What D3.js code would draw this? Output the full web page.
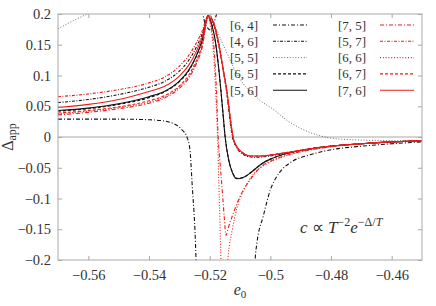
<!DOCTYPE html>
<html>
<head>
<meta charset="utf-8">
<script src="https://cdn.jsdelivr.net/npm/d3@7"></script>
<style>
  body { margin: 0; background: #fff; }
</style>
</head>
<body>
<svg id="chart" width="436" height="306"></svg>
<script>
// axis ticks
const xTicks = [-0.56, -0.54, -0.52, -0.5, -0.48, -0.46];
const yTicks = [-0.2, -0.15, -0.1, -0.05, 0, 0.05, 0.1, 0.15, 0.2];

// series, [e0, Δapp] (null = gap at a pole)
const s64 = [[-0.57, 0.029], [-0.55, 0.029], [-0.54, 0.028], [-0.535, 0.026], [-0.532, 0.022], [-0.5305, 0.018],
  [-0.529, 0.011], [-0.5275, 0.0], [-0.5265, -0.021], [-0.5258, -0.075], [-0.5245, -0.2], [-0.524, -0.3], null,
  [-0.5232, 0.25], [-0.5222, 0.2], [-0.521, 0.18], [-0.5198, 0.174], [-0.519, 0.18], [-0.518, 0.195], [-0.517, 0.215], null,
  [-0.5055, -0.3], [-0.505, -0.2], [-0.5044, -0.172], [-0.5024, -0.13], [-0.5, -0.086], [-0.497, -0.058], [-0.4935, -0.042],
  [-0.4869, -0.029], [-0.4803, -0.021], [-0.47, -0.015], [-0.46, -0.011], [-0.45, -0.008]];
const s46 = [[-0.57, 0.056], [-0.56, 0.061], [-0.55, 0.069], [-0.54, 0.081], [-0.535, 0.09], [-0.53, 0.107], [-0.527, 0.124],
  [-0.5245, 0.145], [-0.5225, 0.167], [-0.5205, 0.197], [-0.519, 0.188], [-0.5175, 0.16], [-0.5146, 0.08], [-0.5125, 0.0],
  [-0.511, -0.018], [-0.509, -0.028], [-0.507, -0.032], [-0.505, -0.033], [-0.502, -0.032], [-0.4968, -0.028],
  [-0.4902, -0.022], [-0.4803, -0.015], [-0.47, -0.011], [-0.46, -0.008], [-0.45, -0.006]];
const s55 = [[-0.57, 0.176], [-0.565, 0.189], [-0.56, 0.201], [-0.555, 0.214], null,
  [-0.5198, 0.21], [-0.5192, 0.19], [-0.5175, 0.172], [-0.516, 0.155], [-0.514, 0.133], [-0.5116, 0.108], [-0.509, 0.087],
  [-0.506, 0.071], [-0.503, 0.058], [-0.499, 0.045], [-0.4945, 0.027], [-0.49, 0.014], [-0.4836, 0.002], [-0.478, -0.003],
  [-0.47, -0.005], [-0.46, -0.006], [-0.45, -0.0065]];
const s65 = [[-0.57, 0.042], [-0.56, 0.046], [-0.55, 0.053], [-0.54, 0.064], [-0.535, 0.073], [-0.53, 0.09], [-0.527, 0.107],
  [-0.5245, 0.13], [-0.5225, 0.156], [-0.5205, 0.197], [-0.5195, 0.185], [-0.5182, 0.158], [-0.5172, 0.12], [-0.5163, 0.076],
  [-0.5156, 0.038], [-0.5149, 0.0], [-0.5138, -0.035], [-0.5125, -0.057], [-0.511, -0.067], [-0.509, -0.066], [-0.507, -0.06],
  [-0.505, -0.052], [-0.5027, -0.043], [-0.4995, -0.035], [-0.4968, -0.03], [-0.4902, -0.022], [-0.4803, -0.015],
  [-0.47, -0.011], [-0.46, -0.008], [-0.45, -0.006]];
const s56 = [[-0.57, 0.043], [-0.56, 0.047], [-0.55, 0.054], [-0.54, 0.0655], [-0.535, 0.074], [-0.53, 0.091], [-0.527, 0.108],
  [-0.5245, 0.131], [-0.5225, 0.157], [-0.5205, 0.198], [-0.5195, 0.186], [-0.5182, 0.158], [-0.5172, 0.12], [-0.5163, 0.076],
  [-0.5156, 0.038], [-0.5149, 0.0], [-0.5138, -0.036], [-0.5125, -0.058], [-0.511, -0.068], [-0.509, -0.066], [-0.507, -0.06],
  [-0.505, -0.052], [-0.5027, -0.043], [-0.4995, -0.035], [-0.4968, -0.03], [-0.4902, -0.022], [-0.4803, -0.015],
  [-0.47, -0.011], [-0.46, -0.008], [-0.45, -0.006]];
const s75 = [[-0.57, 0.036], [-0.56, 0.04], [-0.55, 0.046], [-0.54, 0.055], [-0.535, 0.063], [-0.53, 0.079], [-0.527, 0.095],
  [-0.5245, 0.118], [-0.5225, 0.145], [-0.5205, 0.195], [-0.5195, 0.18], [-0.5185, 0.14], [-0.5178, 0.08], [-0.5172, 0.0],
  [-0.5166, -0.04], [-0.5158, -0.09], [-0.5152, -0.13], [-0.5146, -0.16], [-0.514, -0.15], [-0.5125, -0.128], [-0.5103, -0.1],
  [-0.5067, -0.07], [-0.5027, -0.047], [-0.499, -0.037], [-0.495, -0.03], [-0.49, -0.024], [-0.4803, -0.016],
  [-0.47, -0.011], [-0.46, -0.008], [-0.45, -0.006]];
const s57 = [[-0.57, 0.0655], [-0.56, 0.07], [-0.55, 0.077], [-0.54, 0.088], [-0.535, 0.097], [-0.53, 0.115], [-0.527, 0.132],
  [-0.5245, 0.152], [-0.5225, 0.172], [-0.5205, 0.197], [-0.519, 0.19], [-0.5172, 0.158], [-0.5155, 0.11], [-0.5143, 0.076],
  [-0.5133, 0.035], [-0.5123, 0.0], [-0.511, -0.016], [-0.509, -0.026], [-0.5075, -0.03], [-0.506, -0.031], [-0.504, -0.031],
  [-0.501, -0.03], [-0.4968, -0.027], [-0.4902, -0.022], [-0.4803, -0.015], [-0.47, -0.011], [-0.46, -0.008], [-0.45, -0.006]];
const s66 = [[-0.57, 0.038], [-0.56, 0.042], [-0.55, 0.048], [-0.54, 0.057], [-0.535, 0.065], [-0.53, 0.081], [-0.527, 0.097],
  [-0.5245, 0.12], [-0.5225, 0.147], [-0.5205, 0.195], [-0.5195, 0.175], [-0.5185, 0.12], [-0.5178, 0.05], [-0.5174, 0.0],
  [-0.517, -0.07], [-0.5166, -0.14], [-0.5163, -0.2], [-0.516, -0.3], null,
  [-0.5142, -0.3], [-0.514, -0.2], [-0.5125, -0.15], [-0.511, -0.115], [-0.509, -0.088], [-0.507, -0.07], [-0.505, -0.057],
  [-0.502, -0.046], [-0.499, -0.038], [-0.495, -0.031], [-0.49, -0.024], [-0.4803, -0.016], [-0.47, -0.011],
  [-0.46, -0.008], [-0.45, -0.006]];
const s67 = [[-0.57, 0.039], [-0.56, 0.043], [-0.55, 0.049], [-0.54, 0.059], [-0.535, 0.067], [-0.53, 0.083], [-0.527, 0.1],
  [-0.5245, 0.123], [-0.5225, 0.15], [-0.5205, 0.196], [-0.519, 0.188], [-0.5172, 0.155], [-0.5155, 0.106], [-0.5143, 0.072],
  [-0.5133, 0.032], [-0.5123, 0.0], [-0.511, -0.017], [-0.509, -0.027], [-0.5075, -0.03], [-0.506, -0.031], [-0.504, -0.031],
  [-0.501, -0.03], [-0.4968, -0.027], [-0.4902, -0.022], [-0.4803, -0.015], [-0.47, -0.011], [-0.46, -0.008], [-0.45, -0.006]];
const s76 = [[-0.57, 0.048], [-0.56, 0.053], [-0.55, 0.061], [-0.54, 0.074], [-0.535, 0.082], [-0.53, 0.099], [-0.527, 0.116],
  [-0.5245, 0.138], [-0.5225, 0.162], [-0.5205, 0.197], [-0.519, 0.189], [-0.5172, 0.157], [-0.5155, 0.108], [-0.5143, 0.074],
  [-0.5133, 0.034], [-0.5123, 0.0], [-0.511, -0.016], [-0.509, -0.026], [-0.5075, -0.03], [-0.506, -0.031], [-0.504, -0.031],
  [-0.501, -0.03], [-0.4968, -0.027], [-0.4902, -0.022], [-0.4803, -0.015], [-0.47, -0.011], [-0.46, -0.008], [-0.45, -0.006]];

const black = '#111';
const red = '#ee1c1c';
const dashdot = '4,2,1,2';
const dashdotdot = '3,1.5,1,1.5';
const dotted = '1,1.8';
const dashed = '3,2';
const serif = 'Liberation Serif';
const textColor = '#333';

const series = [
  { name: '[6, 4]', data: s64, color: black, dash: dashdot, col: 0 },
  { name: '[4, 6]', data: s46, color: black, dash: dashdotdot, col: 0 },
  { name: '[5, 5]', data: s55, color: '#444', dash: dotted, col: 0, width: 0.8 },
  { name: '[6, 5]', data: s65, color: black, dash: dashed, col: 0 },
  { name: '[5, 6]', data: s56, color: black, dash: null, col: 0 },
  { name: '[7, 5]', data: s75, color: red, dash: dashdot, col: 1 },
  { name: '[5, 7]', data: s57, color: red, dash: dashdotdot, col: 1 },
  { name: '[6, 6]', data: s66, color: red, dash: dotted, col: 1 },
  { name: '[6, 7]', data: s67, color: red, dash: dashed, col: 1 },
  { name: '[7, 6]', data: s76, color: red, dash: null, col: 1 },
];

const margin = { top: 14, right: 14, bottom: 46, left: 58 };
const width = 436, height = 306;
const svg = d3.select('#chart');

const x = d3.scaleLinear().domain([-0.57, -0.45]).range([margin.left, width - margin.right]);
const y = d3.scaleLinear().domain([-0.2, 0.2]).range([height - margin.bottom, margin.top]);
const fmt = (v) => String(v).replace('-', '\u2212');
const frameColor = '#a8a8a8';

svg.append('clipPath').attr('id', 'plot-clip')
  .append('rect')
  .attr('x', x.range()[0]).attr('y', y.range()[1])
  .attr('width', x.range()[1] - x.range()[0]).attr('height', y.range()[0] - y.range()[1]);

// zero line
svg.append('line')
  .attr('x1', x.range()[0]).attr('x2', x.range()[1])
  .attr('y1', y(0)).attr('y2', y(0))
  .attr('stroke', frameColor).attr('stroke-width', 1);

// curves
const line = d3.line()
  .defined((d) => d != null)
  .x((d) => x(d[0]))
  .y((d) => y(d[1]))
  .curve(d3.curveMonotoneX);

svg.append('g')
  .attr('clip-path', 'url(#plot-clip)')
  .selectAll('path')
  .data(series)
  .enter()
  .append('path')
  .attr('d', (s) => line(s.data))
  .attr('fill', 'none')
  .attr('stroke', (s) => s.color)
  .attr('stroke-width', (s) => s.width || 1.1)
  .attr('stroke-dasharray', (s) => s.dash);

// axes, ticks inside on all four sides
const tickLen = 4;
const axisBottom = d3.axisBottom(x).tickValues(xTicks).tickSize(-tickLen).tickPadding(10).tickFormat(fmt);
const axisTop = d3.axisTop(x).tickValues(xTicks).tickSize(-tickLen).tickFormat('');
const axisLeft = d3.axisLeft(y).tickValues(yTicks).tickSize(-tickLen).tickPadding(7).tickFormat(fmt);
const axisRight = d3.axisRight(y).tickValues(yTicks).tickSize(-tickLen).tickFormat('');

const gb = svg.append('g').attr('transform', `translate(0,${y.range()[0]})`).call(axisBottom);
const gt = svg.append('g').attr('transform', `translate(0,${y.range()[1]})`).call(axisTop);
const gl = svg.append('g').attr('transform', `translate(${x.range()[0]},0)`).call(axisLeft);
const gr = svg.append('g').attr('transform', `translate(${x.range()[1]},0)`).call(axisRight);
[gb, gt, gl, gr].forEach((g) => {
  g.select('.domain').remove();
  g.selectAll('line').attr('stroke', frameColor);
  g.selectAll('text').style('font-family', serif).style('font-size', '14.5px').attr('fill', textColor);
});

svg.append('rect')
  .attr('x', x.range()[0]).attr('y', y.range()[1])
  .attr('width', x.range()[1] - x.range()[0]).attr('height', y.range()[0] - y.range()[1])
  .attr('fill', 'none').attr('stroke', frameColor).attr('stroke-width', 1);

// axis labels
const xl = svg.append('text').attr('x', 240).attr('y', 295).attr('text-anchor', 'middle')
  .style('font-family', serif).style('font-size', '16px').attr('fill', textColor);
xl.append('tspan').attr('font-style', 'italic').text('e');
xl.append('tspan').style('font-size', '11px').attr('dy', 3).text('0');

const yl = svg.append('text')
  .attr('transform', `translate(13,${y(0)}) rotate(-90)`)
  .attr('text-anchor', 'middle')
  .style('font-family', serif).style('font-size', '16px').attr('fill', textColor);
yl.append('tspan').text('\u0394');
yl.append('tspan').style('font-size', '12px').attr('dy', 3).text('app');

// annotation
const ann = svg.append('text').attr('x', 300).attr('y', 233)
  .style('font-family', serif).style('font-size', '17px').attr('fill', textColor);
ann.append('tspan').attr('font-style', 'italic').text('c');
ann.append('tspan').text(' \u221D ');
ann.append('tspan').attr('font-style', 'italic').text('T');
ann.append('tspan').style('font-size', '12px').attr('dy', -7).text('\u22122');
ann.append('tspan').attr('font-style', 'italic').attr('dy', 7).text('e');
ann.append('tspan').style('font-size', '12px').attr('dy', -7).text('\u2212\u0394/');
ann.append('tspan').style('font-size', '12px').attr('font-style', 'italic').text('T');

// legend
const legend = svg.append('g');
const rowY = (i) => 25 + i * 16.3;
const colLabelX = [230, 338];
const colLineX = [[273, 307], [380, 414]];
series.forEach((s, k) => {
  const row = k % 5;
  legend.append('text')
    .attr('x', colLabelX[s.col]).attr('y', rowY(row) + 4.5)
    .style('font-family', serif).style('font-size', '13px').attr('fill', textColor)
    .text(s.name);
  legend.append('line')
    .attr('x1', colLineX[s.col][0]).attr('x2', colLineX[s.col][1])
    .attr('y1', rowY(row)).attr('y2', rowY(row))
    .attr('stroke', s.color)
    .attr('stroke-width', s.width || 1.1)
    .attr('stroke-dasharray', s.dash);
});
</script>
</body>
</html>
